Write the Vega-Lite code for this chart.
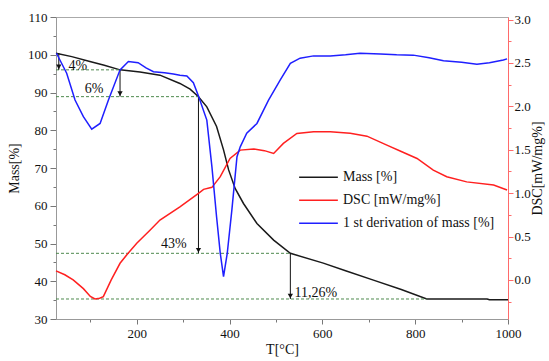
{
  "$schema": "https://vega.github.io/schema/vega-lite/v6.json",
  "width": 452,
  "height": 302,
  "autosize": "none",
  "padding": {"left": 56, "top": 17, "right": 41, "bottom": 42},
  "background": "white",
  "config": {
    "font": "Liberation Serif",
    "view": {"stroke": "#aaaaaa", "strokeWidth": 1},
    "axis": {"labelFont": "Liberation Serif", "titleFont": "Liberation Serif", "labelFontSize": 13, "titleFontSize": 14, "titleFontWeight": "normal", "labelColor": "#111", "titleColor": "#111", "grid": false, "domainColor": "#999999", "tickColor": "#777777", "labelOverlap": false},
    "legend": {"labelFont": "Liberation Serif", "labelFontSize": 14, "labelColor": "#111"}
  },
  "datasets": {
    "mass": [
      {"T": 26, "v": 100.4}, {"T": 60, "v": 99.5}, {"T": 99, "v": 98.2}, {"T": 130, "v": 97.2}, {"T": 164, "v": 96.0}, {"T": 207, "v": 95.4}, {"T": 250, "v": 94.6}, {"T": 293, "v": 92.4}, {"T": 315, "v": 90.9}, {"T": 333, "v": 88.9}, {"T": 351, "v": 86.2}, {"T": 372, "v": 81.0}, {"T": 387, "v": 74.8}, {"T": 398, "v": 69.5}, {"T": 412, "v": 64.6}, {"T": 430, "v": 60.6}, {"T": 459, "v": 55.3}, {"T": 495, "v": 50.9}, {"T": 531, "v": 47.4}, {"T": 602, "v": 44.8}, {"T": 650, "v": 42.8}, {"T": 710, "v": 40.3}, {"T": 770, "v": 37.8}, {"T": 825, "v": 35.3}, {"T": 955, "v": 35.3}, {"T": 960, "v": 35.1}, {"T": 1000, "v": 35.1}
    ],
    "dsc": [
      {"T": 26, "v": 0.104}, {"T": 45, "v": 0.06}, {"T": 63, "v": 0.0}, {"T": 85, "v": -0.1}, {"T": 100, "v": -0.19}, {"T": 110, "v": -0.219}, {"T": 120, "v": -0.21}, {"T": 128, "v": -0.192}, {"T": 145, "v": 0.0}, {"T": 164, "v": 0.192}, {"T": 180, "v": 0.3}, {"T": 200, "v": 0.422}, {"T": 229, "v": 0.575}, {"T": 250, "v": 0.69}, {"T": 293, "v": 0.843}, {"T": 333, "v": 0.998}, {"T": 344, "v": 1.044}, {"T": 362, "v": 1.067}, {"T": 380, "v": 1.19}, {"T": 401, "v": 1.4}, {"T": 423, "v": 1.496}, {"T": 452, "v": 1.51}, {"T": 475, "v": 1.49}, {"T": 495, "v": 1.458}, {"T": 516, "v": 1.573}, {"T": 545, "v": 1.688}, {"T": 581, "v": 1.707}, {"T": 617, "v": 1.707}, {"T": 660, "v": 1.69}, {"T": 696, "v": 1.657}, {"T": 739, "v": 1.553}, {"T": 770, "v": 1.48}, {"T": 804, "v": 1.4}, {"T": 839, "v": 1.266}, {"T": 868, "v": 1.19}, {"T": 911, "v": 1.13}, {"T": 969, "v": 1.093}, {"T": 998, "v": 1.036}
    ],
    "deriv": [
      {"T": 27, "v": 100.4}, {"T": 49, "v": 95.1}, {"T": 67, "v": 88.0}, {"T": 85, "v": 83.6}, {"T": 103, "v": 80.3}, {"T": 121, "v": 81.8}, {"T": 139, "v": 88.0}, {"T": 164, "v": 96.0}, {"T": 182, "v": 98.2}, {"T": 203, "v": 97.9}, {"T": 220, "v": 96.5}, {"T": 236, "v": 95.5}, {"T": 260, "v": 95.2}, {"T": 279, "v": 94.9}, {"T": 293, "v": 94.6}, {"T": 308, "v": 94.4}, {"T": 322, "v": 92.6}, {"T": 333, "v": 89.1}, {"T": 351, "v": 82.7}, {"T": 362, "v": 70.3}, {"T": 372, "v": 57.1}, {"T": 380, "v": 47.4}, {"T": 387, "v": 41.2}, {"T": 395, "v": 47.4}, {"T": 405, "v": 58.9}, {"T": 416, "v": 73.0}, {"T": 423, "v": 75.6}, {"T": 437, "v": 79.2}, {"T": 459, "v": 81.8}, {"T": 484, "v": 88.0}, {"T": 509, "v": 93.3}, {"T": 531, "v": 97.7}, {"T": 552, "v": 99.1}, {"T": 581, "v": 99.7}, {"T": 617, "v": 99.7}, {"T": 650, "v": 100.0}, {"T": 681, "v": 100.4}, {"T": 725, "v": 100.2}, {"T": 760, "v": 100.0}, {"T": 796, "v": 99.9}, {"T": 830, "v": 99.2}, {"T": 861, "v": 98.4}, {"T": 900, "v": 98.0}, {"T": 933, "v": 97.5}, {"T": 960, "v": 97.9}, {"T": 990, "v": 98.6}, {"T": 998, "v": 98.9}
    ],
    "levels": [
      {"T1": 26, "T2": 164, "m": 96.0}, {"T1": 26, "T2": 333, "m": 88.9}, {"T1": 26, "T2": 531, "m": 47.4}, {"T1": 26, "T2": 825, "m": 35.3}
    ],
    "arrows": [
      {"T": 32, "top": 100.4, "bottom": 96.0}, {"T": 164, "top": 96.0, "bottom": 88.9}, {"T": 333, "top": 88.9, "bottom": 47.4}, {"T": 531, "top": 47.4, "bottom": 35.3}
    ],
    "labels": [
      {"T": 73, "m": 97.0, "label": "4%"}, {"T": 108, "m": 90.8, "label": "6%"}, {"T": 280, "m": 49.9, "label": "43%"}, {"T": 586, "m": 37.0, "label": "11,26%"}
    ]
  },
  "layer": [
    {
      "layer": [
        {
          "data": {"name": "mass"},
          "transform": [{"calculate": "'Mass [%]'", "as": "series"}],
          "mark": {"type": "line", "strokeWidth": 1.5},
          "encoding": {
            "x": {"field": "T", "type": "quantitative", "scale": {"domain": [26, 1000], "nice": false, "zero": false},
              "axis": {"title": "T[°C]", "values": [100, 200, 300, 400, 500, 600, 700, 800, 900, 1000], "labelExpr": "datum.value % 200 === 0 ? datum.value : ''", "tickSize": {"condition": {"test": "datum.value % 200 === 0", "value": 5}, "value": 3}, "labelPadding": 3, "titlePadding": 2, "labelFlush": false, "labelOverlap": false}},
            "y": {"field": "v", "type": "quantitative", "scale": {"domain": [30, 110], "nice": false, "zero": false},
              "axis": {"title": "Mass[%]", "values": [30, 35, 40, 45, 50, 55, 60, 65, 70, 75, 80, 85, 90, 95, 100, 105, 110], "labelExpr": "datum.value % 10 === 0 ? datum.value : ''", "tickSize": {"condition": {"test": "datum.value % 10 === 0", "value": 6}, "value": 3}, "labelPadding": 3, "titlePadding": 6, "labelOverlap": false}},
            "color": {"field": "series", "type": "nominal",
              "scale": {"domain": ["Mass [%]", "DSC [mW/mg%]", "1 st derivation of mass [%]"], "range": ["#1a1a1a", "#ff2020", "#1f1fff"]},
              "legend": {"title": null, "orient": "none", "legendX": 242, "legendY": 149, "symbolType": "stroke", "symbolSize": 1500, "symbolStrokeWidth": 1.5, "clipHeight": 22.5, "rowPadding": 0, "labelOffset": 4}}
          }
        },
        {
          "data": {"name": "levels"},
          "mark": {"type": "rule", "color": "#4f8a4f", "strokeWidth": 1, "strokeDash": [3, 2]},
          "encoding": {
            "x": {"field": "T1", "type": "quantitative"},
            "x2": {"field": "T2"},
            "y": {"field": "m", "type": "quantitative",
              "axis": {"title": "Mass[%]", "values": [30, 35, 40, 45, 50, 55, 60, 65, 70, 75, 80, 85, 90, 95, 100, 105, 110], "labelExpr": "datum.value % 10 === 0 ? datum.value : ''", "tickSize": {"condition": {"test": "datum.value % 10 === 0", "value": 6}, "value": 3}, "labelPadding": 3, "titlePadding": 6, "labelOverlap": false}}
          }
        },
        {
          "data": {"name": "arrows"},
          "mark": {"type": "rule", "color": "#111", "strokeWidth": 1},
          "encoding": {
            "x": {"field": "T", "type": "quantitative"},
            "y": {"field": "top", "type": "quantitative",
              "axis": {"title": "Mass[%]", "values": [30, 35, 40, 45, 50, 55, 60, 65, 70, 75, 80, 85, 90, 95, 100, 105, 110], "labelExpr": "datum.value % 10 === 0 ? datum.value : ''", "tickSize": {"condition": {"test": "datum.value % 10 === 0", "value": 6}, "value": 3}, "labelPadding": 3, "titlePadding": 6, "labelOverlap": false}},
            "y2": {"field": "bottom"}
          }
        },
        {
          "data": {"name": "arrows"},
          "mark": {"type": "point", "shape": "triangle-down", "filled": true, "color": "#111", "size": 28, "opacity": 1, "yOffset": -3},
          "encoding": {
            "x": {"field": "T", "type": "quantitative"},
            "y": {"field": "bottom", "type": "quantitative",
              "axis": {"title": "Mass[%]", "values": [30, 35, 40, 45, 50, 55, 60, 65, 70, 75, 80, 85, 90, 95, 100, 105, 110], "labelExpr": "datum.value % 10 === 0 ? datum.value : ''", "tickSize": {"condition": {"test": "datum.value % 10 === 0", "value": 6}, "value": 3}, "labelPadding": 3, "titlePadding": 6, "labelOverlap": false}}
          }
        },
        {
          "data": {"name": "labels"},
          "mark": {"type": "text", "font": "Liberation Serif", "fontSize": 14, "color": "#111", "align": "center", "baseline": "middle"},
          "encoding": {
            "x": {"field": "T", "type": "quantitative"},
            "y": {"field": "m", "type": "quantitative",
              "axis": {"title": "Mass[%]", "values": [30, 35, 40, 45, 50, 55, 60, 65, 70, 75, 80, 85, 90, 95, 100, 105, 110], "labelExpr": "datum.value % 10 === 0 ? datum.value : ''", "tickSize": {"condition": {"test": "datum.value % 10 === 0", "value": 6}, "value": 3}, "labelPadding": 3, "titlePadding": 6, "labelOverlap": false}},
            "text": {"field": "label"}
          }
        }
      ]
    },
    {
      "data": {"name": "dsc"},
      "transform": [{"calculate": "'DSC [mW/mg%]'", "as": "series"}],
      "mark": {"type": "line", "strokeWidth": 1.5},
      "encoding": {
        "x": {"field": "T", "type": "quantitative"},
        "y": {"field": "v", "type": "quantitative", "scale": {"domain": [-0.45, 3.03], "nice": false, "zero": false},
          "axis": {"orient": "right", "title": "DSC[mW/mg%]", "titleAngle": 270, "values": [-0.25, 0, 0.25, 0.5, 0.75, 1, 1.25, 1.5, 1.75, 2, 2.25, 2.5, 2.75, 3], "labelExpr": "(datum.value * 2) % 1 === 0 ? format(datum.value, '.1f') : ''", "tickSize": {"condition": {"test": "(datum.value * 2) % 1 === 0", "value": 5}, "value": 3}, "domainColor": "#ff6a6a", "tickColor": "#ff6a6a", "labelPadding": 1, "titlePadding": 14, "labelOverlap": false}},
        "color": {"field": "series", "type": "nominal"}
      }
    },
    {
      "data": {"name": "deriv"},
      "transform": [{"calculate": "'1 st derivation of mass [%]'", "as": "series"}],
      "mark": {"type": "line", "strokeWidth": 1.5},
      "encoding": {
        "x": {"field": "T", "type": "quantitative"},
        "y": {"field": "v", "type": "quantitative", "scale": {"domain": [30, 110], "nice": false, "zero": false}, "axis": null},
        "color": {"field": "series", "type": "nominal"}
      }
    }
  ],
  "resolve": {"scale": {"y": "independent"}}
}
